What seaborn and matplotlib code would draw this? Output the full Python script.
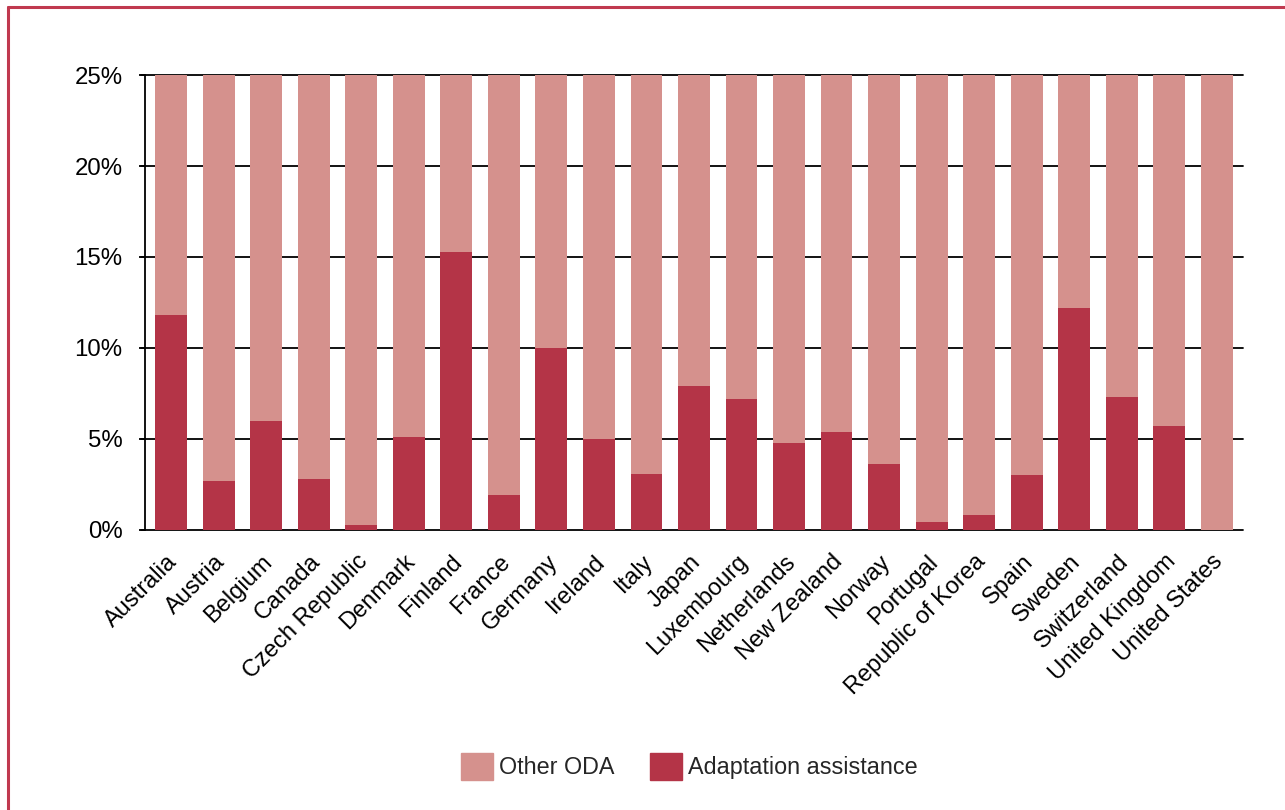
import matplotlib
matplotlib.use("Agg")
import matplotlib.pyplot as plt
import matplotlib.patches as mpatches
import matplotlib.transforms as mtransforms
from matplotlib.lines import Line2D
import pandas as pd
import seaborn as sns

# Data (share of ODA, %)
countries = ["Australia", "Austria", "Belgium", "Canada", "Czech Republic", "Denmark",
             "Finland", "France", "Germany", "Ireland", "Italy", "Japan", "Luxembourg",
             "Netherlands", "New Zealand", "Norway", "Portugal", "Republic of Korea",
             "Spain", "Sweden", "Switzerland", "United Kingdom", "United States"]
adaptation = [11.8, 2.7, 6.0, 2.8, 0.3, 5.1, 15.3, 1.9, 10.0, 5.0, 3.1, 7.9, 7.2,
              4.8, 5.4, 3.6, 0.45, 0.85, 3.0, 12.2, 7.3, 5.7, 0.0]
other_oda = [100 - a for a in adaptation]
y_ticks = [0, 5, 10, 15, 20, 25]

light = "#D5918D"
dark = "#B43447"

df = pd.DataFrame({"country": countries, "adaptation": adaptation, "other": other_oda})
df["total"] = df["adaptation"] + df["other"]

sns.set_style("white")
plt.rcParams["font.family"] = ["Liberation Sans", "DejaVu Sans"]

fig = plt.figure(figsize=(12.85, 8.10), dpi=100)
ax = fig.add_axes([0.1128, 0.3457, 0.9673 - 0.1128, 0.9074 - 0.3457])

# stacked: full bar in light, adaptation share on top in dark
sns.barplot(data=df, x="country", y="total", color=light, width=0.67,
            saturation=1, linewidth=0, ax=ax)
sns.barplot(data=df, x="country", y="adaptation", color=dark, width=0.67,
            saturation=1, linewidth=0, ax=ax)

ax.set_ylim(0, 25)
ax.set_xlim(-0.55, len(countries) - 0.45)
ax.set_yticks(y_ticks)
ax.set_yticklabels([f"{t}%" for t in y_ticks])
ax.set_xlabel("")
ax.set_ylabel("")

for t in y_ticks:
    ax.axhline(t, color="black", lw=1.3, zorder=0.5, xmin=-0.004, clip_on=False)

for s in ["top", "right", "bottom"]:
    ax.spines[s].set_visible(False)
ax.spines["left"].set_color("black")
ax.spines["left"].set_linewidth(1.3)
ax.tick_params(axis="y", left=True, length=4, width=1.3, color="black",
               pad=12, labelsize=17.3, labelcolor="black")
ax.tick_params(axis="x", bottom=False, pad=17, labelsize=17, labelcolor="black")
shift = mtransforms.ScaledTranslation(3 / 100, 0, fig.dpi_scale_trans)
for lab in ax.get_xticklabels():
    lab.set_rotation(45)
    lab.set_ha("right")
    lab.set_va("center")
    lab.set_rotation_mode("anchor")
    lab.set_transform(lab.get_transform() + shift)

handles = [mpatches.Patch(color=light, label="Other ODA"),
           mpatches.Patch(color=dark, label="Adaptation assistance")]
ax.legend(handles=handles, loc="center", bbox_to_anchor=(0.5365, 0.054),
          bbox_transform=fig.transFigure, ncol=2, frameon=False, fontsize=16.8,
          handlelength=1.37, handleheight=1.37, handletextpad=0.25, columnspacing=1.55)

# red frame around the figure (left and top edges visible)
fig.add_artist(Line2D([7.5 / 1285, 7.5 / 1285], [0, 1 - 6.5 / 810],
                      transform=fig.transFigure, color="#C0394F", lw=2.2))
fig.add_artist(Line2D([7.5 / 1285, 1], [1 - 6.5 / 810, 1 - 6.5 / 810],
                      transform=fig.transFigure, color="#C0394F", lw=2.2))

fig.savefig("out.png", dpi=100)
